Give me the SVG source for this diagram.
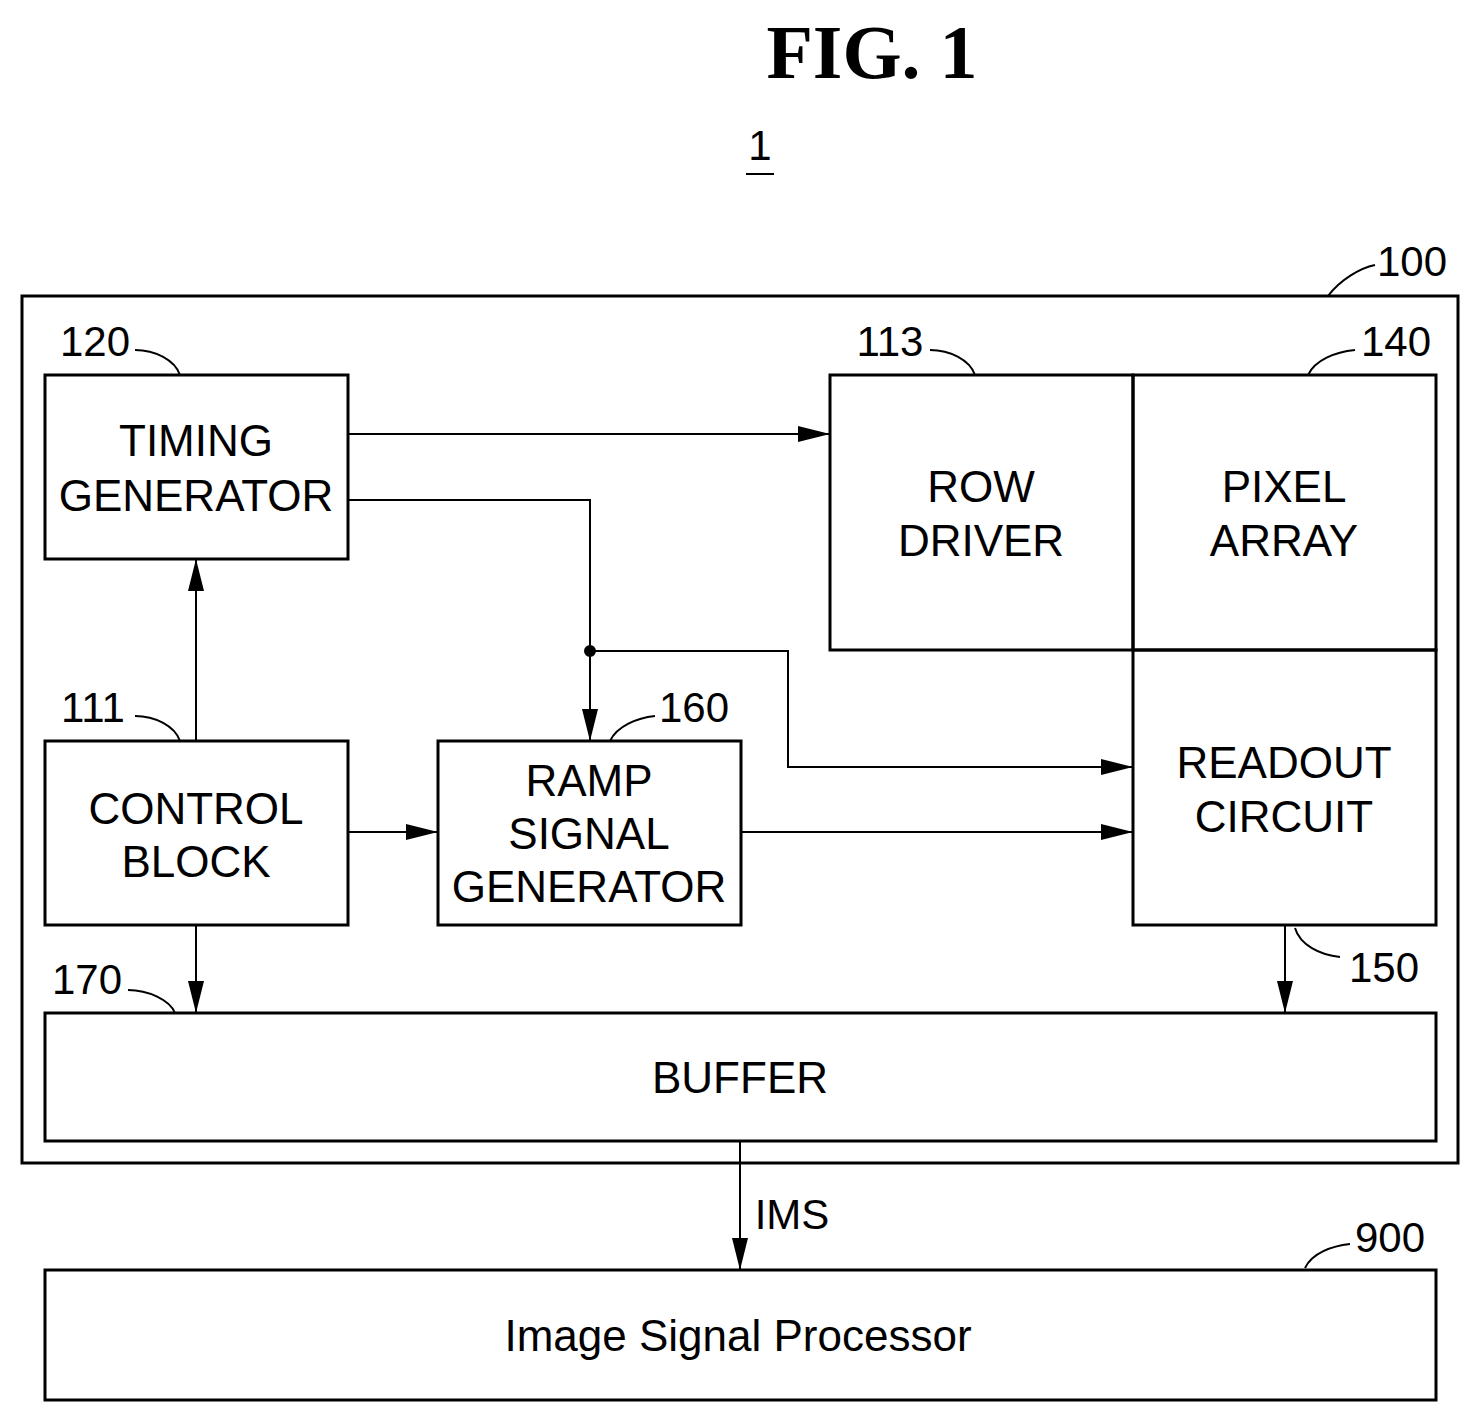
<svg xmlns="http://www.w3.org/2000/svg" width="1480" height="1423" viewBox="0 0 1480 1423">
<style>
.b{fill:none;stroke:#000;stroke-width:3}
.l{fill:none;stroke:#000;stroke-width:2}
.t{font-family:"Liberation Sans",Arial,sans-serif;font-size:44px;text-anchor:middle;fill:#000}
.n{font-family:"Liberation Sans",Arial,sans-serif;font-size:42px;text-anchor:middle;fill:#000}
</style>
<defs><marker id="a" markerWidth="34" markerHeight="16" refX="32" refY="8" orient="auto" markerUnits="userSpaceOnUse"><path d="M0,0 L32,8 L0,16 Z" fill="#000"/></marker></defs>
<rect width="1480" height="1423" fill="#fff"/>
<text x="872" y="78" font-family="Liberation Serif,serif" font-weight="bold" font-size="76" text-anchor="middle">FIG. 1</text>
<text x="760" y="160" class="n">1</text>
<line x1="746" y1="174" x2="774" y2="174" class="l"/>
<g id="n100"><rect x="22" y="296" width="1436" height="867" class="b"/><text x="1412" y="276" class="n">100</text><path d="M1328,296 C1340,280 1360,268 1375,265" class="l"/></g>
<g id="n120"><rect x="45" y="375" width="303" height="184" class="b"/><text class="t" x="196" y="456">TIMING</text><text class="t" x="196" y="511">GENERATOR</text><text x="95" y="356" class="n">120</text><path d="M135,350 C155,350 175,360 180,375" class="l"/></g>
<g id="n113"><rect x="830" y="375" width="303" height="275" class="b"/><text class="t" x="981" y="502">ROW</text><text class="t" x="981" y="556">DRIVER</text><text x="890" y="356" class="n">113</text><path d="M930,350 C950,350 970,360 975,375" class="l"/></g>
<g id="n140"><rect x="1133" y="375" width="303" height="275" class="b"/><text class="t" x="1284" y="502">PIXEL</text><text class="t" x="1284" y="556">ARRAY</text><text x="1396" y="356" class="n">140</text><path d="M1308,375 C1315,360 1335,352 1355,350" class="l"/></g>
<g id="n150"><rect x="1133" y="650" width="303" height="275" class="b"/><text class="t" x="1284" y="778">READOUT</text><text class="t" x="1284" y="832">CIRCUIT</text><text x="1384" y="982" class="n">150</text><path d="M1295,928 C1300,945 1320,955 1340,957" class="l"/></g>
<g id="n111"><rect x="45" y="741" width="303" height="184" class="b"/><text class="t" x="196" y="824">CONTROL</text><text class="t" x="196" y="877">BLOCK</text><text x="93" y="722" class="n">111</text><path d="M135,716 C155,716 175,726 180,741" class="l"/></g>
<g id="n160"><rect x="438" y="741" width="303" height="184" class="b"/><text class="t" x="589" y="796">RAMP</text><text class="t" x="589" y="849">SIGNAL</text><text class="t" x="589" y="902">GENERATOR</text><text x="694" y="722" class="n">160</text><path d="M610,741 C617,726 637,718 655,716" class="l"/></g>
<g id="n170"><rect x="45" y="1013" width="1391" height="128" class="b"/><text class="t" x="740" y="1093">BUFFER</text><text x="87" y="994" class="n">170</text><path d="M128,990 C148,990 170,1000 175,1013" class="l"/></g>
<g id="n900"><rect x="45" y="1270" width="1391" height="130" class="b"/><text class="t" x="738" y="1351">Image Signal Processor</text><text x="1390" y="1252" class="n">900</text><path d="M1305,1268 C1312,1253 1332,1246 1350,1244" class="l"/></g>
<g id="connectors" class="l">
<path d="M348,434 H830" marker-end="url(#a)"/>
<path d="M348,500 H590 V741" marker-end="url(#a)"/>
<circle cx="590" cy="651" r="5" fill="#000"/>
<path d="M590,651 H788 V767 H1133" marker-end="url(#a)"/>
<path d="M196,741 V559" marker-end="url(#a)"/>
<path d="M348,832 H438" marker-end="url(#a)"/>
<path d="M741,832 H1133" marker-end="url(#a)"/>
<path d="M196,925 V1013" marker-end="url(#a)"/>
<path d="M1285,925 V1013" marker-end="url(#a)"/>
<path d="M740,1141 V1270" marker-end="url(#a)"/>
</g>
<text x="792" y="1229" class="n">IMS</text>
</svg>
